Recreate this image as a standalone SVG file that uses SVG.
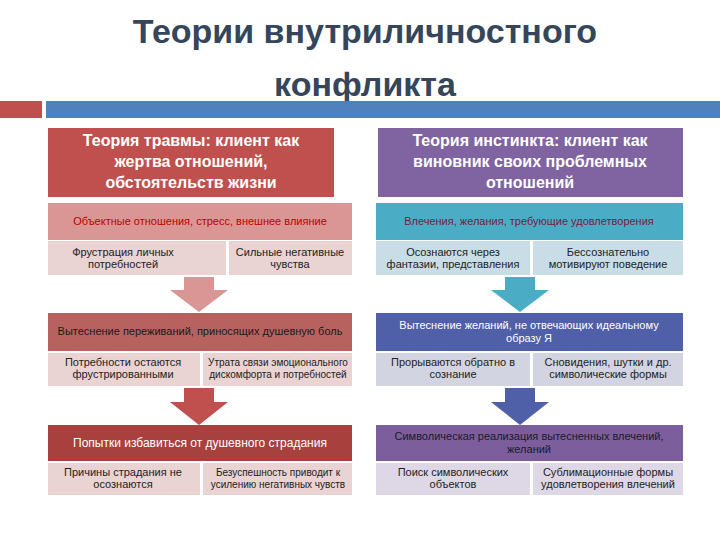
<svg xmlns="http://www.w3.org/2000/svg" width="720" height="540" viewBox="0 0 720 540">
<style>
.t{font-family:"Liberation Sans",Arial,sans-serif;text-anchor:middle}
.ti{font-size:34px;font-weight:bold;fill:#36465a}
.h{font-size:16px;font-weight:bold;fill:#fff}
.s{font-size:11px;fill:#222}
.m{font-size:11px}
</style>
<rect width="720" height="540" fill="#fff"/>
<text class="t ti" x="365" y="43">Теории внутриличностного</text>
<text class="t ti" x="365" y="96">конфликта</text>
<rect x="0" y="101" width="42" height="17" fill="#c0504d"/>
<rect x="46" y="101" width="674" height="17" fill="#4f81bd"/>

<g id="connectors">
<polygon points="184,277 214,277 214,290 228,290 199,312 170,290 184,290" fill="#d99694"/>
<polygon points="505,277 535,277 535,290 549,290 520,312 491,290 505,290" fill="#4bacc6"/>
<polygon points="184,388 214,388 214,402 228,402 199,425 170,402 184,402" fill="#c0504d"/>
<polygon points="505,388 535,388 535,402 549,402 520,425 491,402 505,402" fill="#4f5fa8"/>
</g>

<g id="left-header"><rect x="48" y="128" width="286" height="69" fill="#c0504d"/>
<text class="t h" x="191" y="146">Теория травмы: клиент как</text>
<text class="t h" x="191" y="167">жертва отношений,</text>
<text class="t h" x="191" y="188">обстоятельств жизни</text></g>

<g id="right-header"><rect x="378" y="128" width="305" height="69" fill="#8064a2"/>
<text class="t h" x="530" y="146">Теория инстинкта: клиент как</text>
<text class="t h" x="530" y="167">виновник своих проблемных</text>
<text class="t h" x="530" y="188">отношений</text></g>

<g id="l1"><rect x="48" y="203" width="304" height="37" fill="#d99694"/>
<text class="t m" x="200" y="225" fill="#c00000">Объектные отношения, стресс, внешнее влияние</text>
<rect x="48" y="241" width="178" height="34" fill="#e9d3d3"/><rect x="229" y="241" width="123" height="34" fill="#e9d3d3"/>
<text class="t s" x="123" y="256">Фрустрация личных</text><text class="t s" x="123" y="268">потребностей</text>
<text class="t s" x="290" y="256">Сильные негативные</text><text class="t s" x="290" y="268">чувства</text></g>

<g id="r1"><rect x="376" y="203" width="307" height="37" fill="#4bacc6"/>
<text class="t m" x="529" y="225" fill="#7a1b3a">Влечения, желания, требующие удовлетворения</text>
<rect x="376" y="241" width="154" height="34" fill="#c8dde6"/><rect x="533" y="241" width="150" height="34" fill="#c8dde6"/>
<text class="t s" x="453" y="256">Осознаются через</text><text class="t s" x="453" y="268">фантазии, представления</text>
<text class="t s" x="608" y="256">Бессознательно</text><text class="t s" x="608" y="268">мотивируют поведение</text></g>

<g id="l2"><rect x="48" y="313" width="304" height="38" fill="#b86260"/>
<text class="t m" x="200" y="335" fill="#1a1a1a">Вытеснение переживаний, приносящих душевную боль</text>
<rect x="48" y="353" width="152" height="33" fill="#e9d3d3"/><rect x="203" y="353" width="149" height="33" fill="#e9d3d3"/>
<text class="t s" x="123" y="366">Потребности остаются</text><text class="t s" x="123" y="378">фрустрированными</text>
<text class="t s" x="278" y="366" style="font-size:10px">Утрата связи эмоционального</text><text class="t s" x="278" y="378" style="font-size:10px">дискомфорта и потребностей</text></g>

<g id="r2"><rect x="376" y="313" width="307" height="38" fill="#4f5fa8"/>
<text class="t m" x="529" y="329" fill="#fff">Вытеснение желаний, не отвечающих идеальному</text>
<text class="t m" x="529" y="342" fill="#fff">образу Я</text>
<rect x="376" y="353" width="154" height="33" fill="#d2d4e2"/><rect x="533" y="353" width="150" height="33" fill="#d2d4e2"/>
<text class="t s" x="453" y="366">Прорываются обратно в</text><text class="t s" x="453" y="378">сознание</text>
<text class="t s" x="608" y="366">Сновидения, шутки и др.</text><text class="t s" x="608" y="378">символические формы</text></g>

<g id="l3"><rect x="48" y="425" width="304" height="36" fill="#a8403e"/>
<text class="t" x="200" y="447" style="font-size:12px" fill="#fff">Попытки избавиться от душевного страдания</text>
<rect x="48" y="463" width="152" height="32" fill="#e9d3d3"/><rect x="203" y="463" width="149" height="32" fill="#e9d3d3"/>
<text class="t s" x="123" y="476">Причины страдания не</text><text class="t s" x="123" y="488">осознаются</text>
<text class="t s" x="278" y="476" style="font-size:10px">Безуспешность приводит к</text><text class="t s" x="278" y="488" style="font-size:10px">усилению негативных чувств</text></g>

<g id="r3"><rect x="376" y="425" width="307" height="36" fill="#7c5e9c"/>
<text class="t m" x="529" y="440" fill="#1a1a2a">Символическая реализация вытесненных влечений,</text>
<text class="t m" x="529" y="453" fill="#1a1a2a">желаний</text>
<rect x="376" y="463" width="154" height="32" fill="#ddd7e6"/><rect x="533" y="463" width="150" height="32" fill="#ddd7e6"/>
<text class="t s" x="453" y="476">Поиск символических</text><text class="t s" x="453" y="488">объектов</text>
<text class="t s" x="608" y="476">Сублимационные формы</text><text class="t s" x="608" y="488">удовлетворения влечений</text></g>
</svg>
